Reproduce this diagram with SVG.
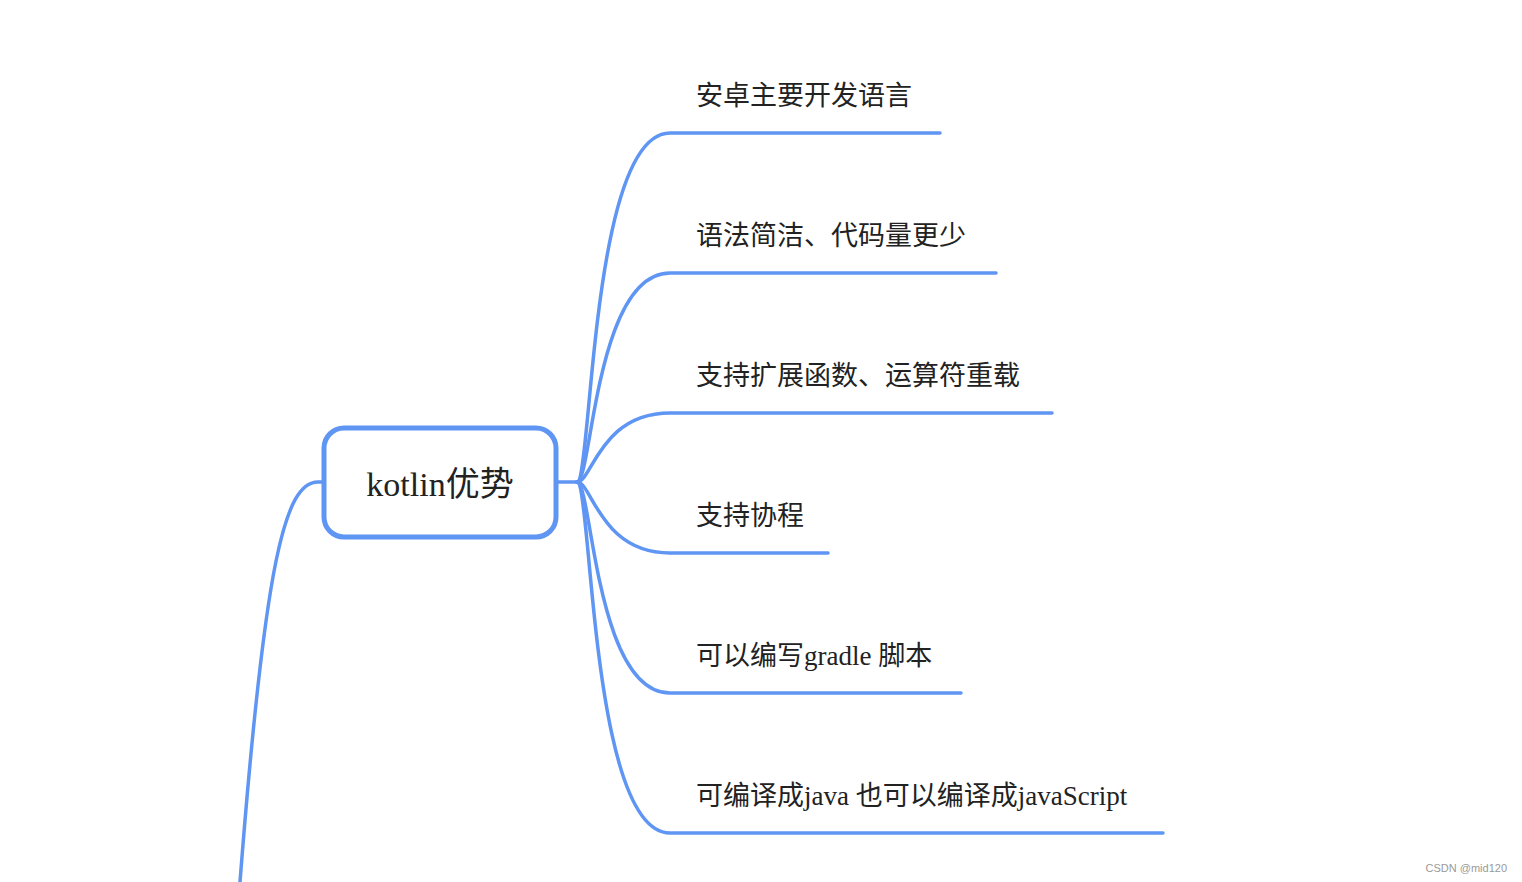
<svg xmlns="http://www.w3.org/2000/svg" width="1522" height="882" viewBox="0 0 1522 882">
<style>
.c{fill:none;stroke:#5f95f3;stroke-width:3.5;stroke-linecap:round}
.t{font-family:"Liberation Serif","Noto Sans CJK SC",serif;font-size:27px;fill:#222}
</style>
<rect width="1522" height="882" fill="#fff"/>
<g id="connectors">
<path class="c" d="M323,482 L318,482 C285,482 265,560 240,882"/>
<path class="c" d="M557,482 L577,482"/>
<path class="c" d="M577,482 C592,482 590,133 670,133 L940,133"/>
<path class="c" d="M577,482 C592,482 595,273 670,273 L996,273"/>
<path class="c" d="M577,482 C592,482 600,413 670,413 L1052,413"/>
<path class="c" d="M577,482 C592,482 600,553 670,553 L828,553"/>
<path class="c" d="M577,482 C592,482 595,693 670,693 L961,693"/>
<path class="c" d="M577,482 C592,482 590,833 670,833 L1163,833"/>
</g>
<g id="root">
<rect x="324" y="428" width="232" height="109" rx="20" fill="#fff" stroke="#5f95f3" stroke-width="5"/>
<text x="440" y="496" text-anchor="middle" class="t" style="font-size:34px">kotlin优势</text>
</g>
<g id="n1"><text x="696" y="105" class="t">安卓主要开发语言</text></g>
<g id="n2"><text x="696" y="245" class="t">语法简洁、代码量更少</text></g>
<g id="n3"><text x="696" y="385" class="t">支持扩展函数、运算符重载</text></g>
<g id="n4"><text x="696" y="525" class="t">支持协程</text></g>
<g id="n5"><text x="696" y="665" class="t">可以编写gradle 脚本</text></g>
<g id="n6"><text x="696" y="805" class="t">可编译成java 也可以编译成javaScript</text></g>
<text x="1507" y="872" text-anchor="end" style="font-family:'Liberation Sans',sans-serif;font-size:11px;fill:#999">CSDN @mid120</text>
</svg>
